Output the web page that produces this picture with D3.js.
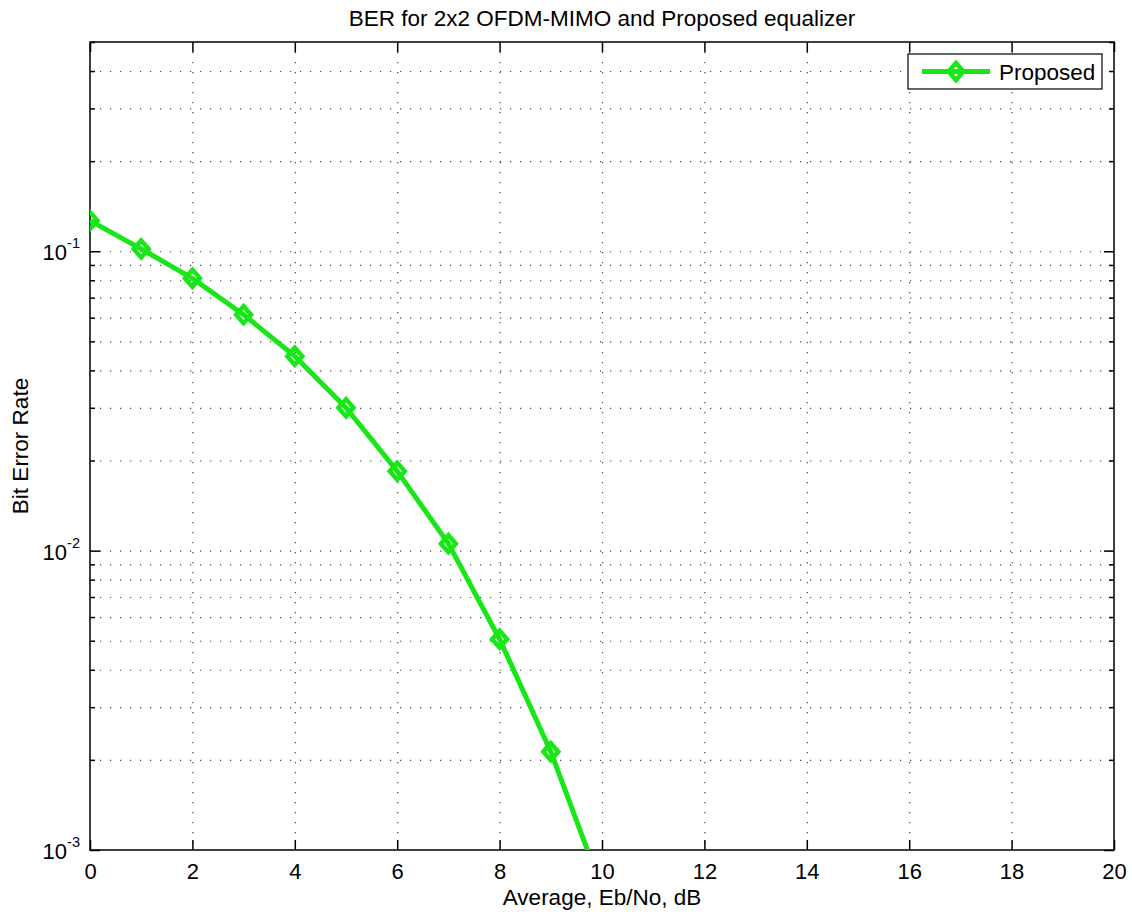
<!DOCTYPE html>
<html>
<head>
<meta charset="utf-8">
<script src="https://cdn.jsdelivr.net/npm/d3@7"></script>
<style>
  body { margin: 0; background: #fff; }
  text { font-family: "Liberation Sans", Arial, Helvetica, sans-serif; }
</style>
</head>
<body>
<svg id="chart" width="1132" height="915"></svg>
<script>
// data
const ebno = [0, 1, 2, 3, 4, 5, 6, 7, 8, 9, 10];
const ber = [0.1265, 0.1018, 0.0812, 0.0614, 0.0446, 0.0300, 0.01843, 0.01055, 0.00506, 0.00213, 0.00074];
const seriesName = "Proposed";
const xTicks = [0, 2, 4, 6, 8, 10, 12, 14, 16, 18, 20];
const yMajor = [1e-3, 1e-2, 1e-1];
const yMinor = [0.002, 0.003, 0.004, 0.005, 0.006, 0.007, 0.008, 0.009,
                0.02, 0.03, 0.04, 0.05, 0.06, 0.07, 0.08, 0.09,
                0.2, 0.3, 0.4, 0.5];
const yExp = ["-3", "-2", "-1"];

const svg = d3.select("#chart");
const margin = { top: 42, left: 90, right: 18, bottom: 65 };
const W = +svg.attr("width") - margin.left - margin.right;
const H = +svg.attr("height") - margin.top - margin.bottom;
const green = "#19e619";
const tickFont = 22;
const labelFont = 22.5;

const x = d3.scaleLinear().domain([0, 20]).range([0, W]);
const y = d3.scaleLog().domain([1e-3, 0.5]).range([H, 0]);

const g = svg.append("g").attr("transform", `translate(${margin.left},${margin.top})`);

svg.append("defs").append("clipPath").attr("id", "plotclip")
  .append("rect").attr("width", W).attr("height", H);

// dotted grid
const gridX = g.append("g")
  .call(d3.axisBottom(x).tickValues(xTicks.slice(1, -1)).tickSize(H).tickFormat(""));
const gridY = g.append("g")
  .call(d3.axisLeft(y).tickValues(yMajor.slice(1).concat(yMinor.slice(0, -1))).tickSize(-W).tickFormat(""));
[gridX, gridY].forEach(gr => {
  gr.select(".domain").remove();
  gr.selectAll("line")
    .attr("stroke", "#444")
    .attr("stroke-width", 1.2)
    .attr("stroke-dasharray", "1.2,8.8");
});

// ticks on all four sides, pointing in
function styleAxis(ax) {
  ax.select(".domain").remove();
  ax.selectAll("line").attr("stroke", "#000").attr("stroke-width", 1.5);
  ax.selectAll("text").attr("font-size", tickFont).attr("fill", "#000");
}
const axBottom = g.append("g").attr("transform", `translate(0,${H})`)
  .call(d3.axisBottom(x).tickValues(xTicks).tickSizeInner(-10).tickSizeOuter(0).tickPadding(0));
styleAxis(axBottom);
axBottom.selectAll("text").attr("y", 29).attr("dy", 0);

const axTop = g.append("g")
  .call(d3.axisTop(x).tickValues(xTicks).tickSizeInner(-10).tickSizeOuter(0).tickFormat(""));
styleAxis(axTop);

const axLeft = g.append("g")
  .call(d3.axisLeft(y).tickValues(yMajor).tickSizeInner(-10).tickSizeOuter(0).tickFormat(""));
styleAxis(axLeft);
const axLeftMinor = g.append("g")
  .call(d3.axisLeft(y).tickValues(yMinor).tickSizeInner(-5).tickSizeOuter(0).tickFormat(""));
styleAxis(axLeftMinor);
const axRight = g.append("g").attr("transform", `translate(${W},0)`)
  .call(d3.axisRight(y).tickValues(yMajor).tickSizeInner(-10).tickSizeOuter(0).tickFormat(""));
styleAxis(axRight);
const axRightMinor = g.append("g").attr("transform", `translate(${W},0)`)
  .call(d3.axisRight(y).tickValues(yMinor).tickSizeInner(-5).tickSizeOuter(0).tickFormat(""));
styleAxis(axRightMinor);

// y tick labels as 10 with superscript
const ylab = g.append("g").selectAll("text").data(yMajor).join("text")
  .attr("x", -10)
  .attr("y", d => y(d) + 9)
  .attr("text-anchor", "end")
  .attr("font-size", tickFont)
  .attr("fill", "#000");
ylab.append("tspan").text("10");
ylab.append("tspan").attr("dy", -12).attr("font-size", 14.5).text((d, i) => yExp[i]);

// frame
g.append("rect").attr("width", W).attr("height", H)
  .attr("fill", "none").attr("stroke", "#000").attr("stroke-width", 1.5);

// series
const pts = ebno.map((e, i) => ({ x: e, y: ber[i] }));
const line = d3.line().x(d => x(d.x)).y(d => y(d.y));
const plot = g.append("g").attr("clip-path", "url(#plotclip)");
plot.append("path").datum(pts)
  .attr("d", line)
  .attr("fill", "none")
  .attr("stroke", green)
  .attr("stroke-width", 5)
  .attr("stroke-linejoin", "round");

const diamond = "M0,-8.5L7.5,0L0,8.5L-7.5,0Z";
plot.selectAll(".mk").data(pts).join("path")
  .attr("class", "mk")
  .attr("transform", d => `translate(${x(d.x)},${y(d.y)})`)
  .attr("d", diamond)
  .attr("fill", "none")
  .attr("stroke", green)
  .attr("stroke-width", 4.5);

// title and axis labels
svg.append("text")
  .attr("x", margin.left + W / 2).attr("y", 26)
  .attr("text-anchor", "middle").attr("font-size", labelFont)
  .text("BER for 2x2 OFDM-MIMO and Proposed equalizer");
svg.append("text")
  .attr("x", margin.left + W / 2).attr("y", 905)
  .attr("text-anchor", "middle").attr("font-size", labelFont)
  .text("Average, Eb/No, dB");
svg.append("text")
  .attr("transform", `translate(28,${margin.top + H / 2}) rotate(-90)`)
  .attr("text-anchor", "middle").attr("font-size", labelFont)
  .text("Bit Error Rate");

// legend
const lg = svg.append("g").attr("transform", "translate(908,54)");
lg.append("rect").attr("width", 194).attr("height", 35)
  .attr("fill", "#fff").attr("stroke", "#000").attr("stroke-width", 1.2);
lg.append("line").attr("x1", 14).attr("x2", 82).attr("y1", 17.5).attr("y2", 17.5)
  .attr("stroke", green).attr("stroke-width", 5);
lg.append("path").attr("transform", "translate(48,17.5)").attr("d", diamond)
  .attr("fill", "none").attr("stroke", green).attr("stroke-width", 4.5);
lg.append("text").attr("x", 91).attr("y", 25.5).attr("font-size", labelFont)
  .text(seriesName);
</script>
</body>
</html>
